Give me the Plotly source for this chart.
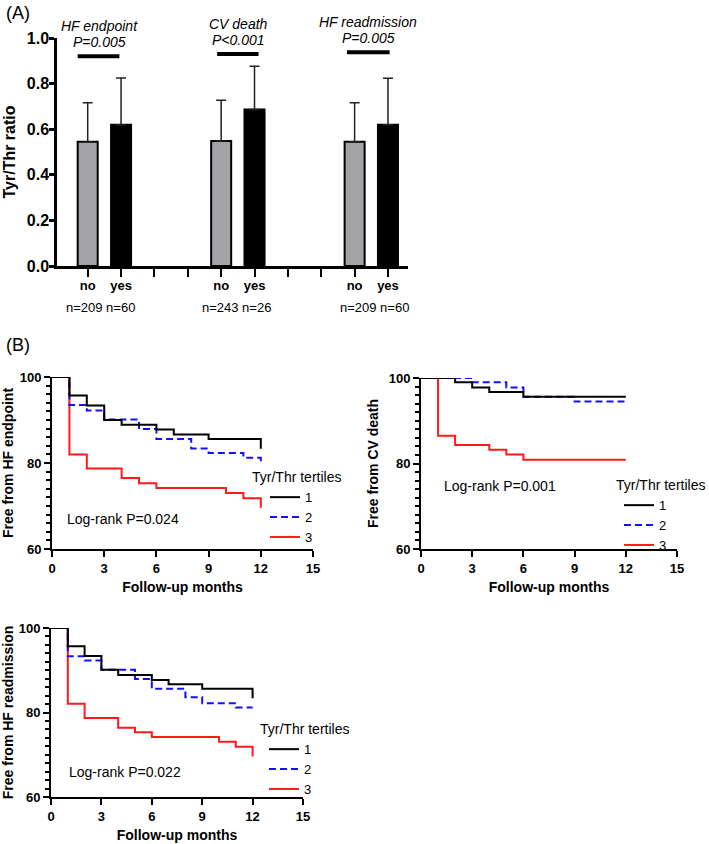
import plotly.graph_objects as go

W, H = 709, 844
FONT = "Liberation Sans, Arial, Helvetica, sans-serif"

# ---------------- Panel A data ----------------
endpoints = ["HF endpoint", "CV death", "HF readmission"]
p_texts = ["P=0.005", "P<0.001", "P=0.005"]
mean_no = [0.545, 0.548, 0.545]
mean_yes = [0.620, 0.686, 0.620]
sd_no = [0.171, 0.179, 0.171]
sd_yes = [0.205, 0.190, 0.203]
n_no = [209, 243, 209]
n_yes = [60, 26, 60]
sig_y = [0.920, 0.930, 0.937]
cat_labels = ["no", "yes", "", "", "no", "yes", "", "", "no", "yes"]

# ---------------- Panel B data (Kaplan-Meier, % event-free) ----------------
hf_t1 = [0, 1, 2, 3, 4, 6, 7, 9, 12]
hf_s1 = [100, 95.7, 93.4, 90.0, 88.9, 87.8, 86.6, 85.6, 83.3]
hf_t2 = [0, 1, 2, 3, 5, 6, 8, 9, 11, 12]
hf_s2 = [100, 93.5, 92.2, 90.1, 87.9, 85.6, 83.4, 82.3, 81.2, 80.4]
hf_t3 = [0, 1, 2, 4, 5, 6, 10, 11, 12]
hf_s3 = [100, 82.0, 78.7, 76.5, 75.3, 74.2, 73.0, 71.8, 69.6]

cv_t1 = [0, 2, 3, 4, 6, 12]
cv_s1 = [100, 99.0, 97.8, 96.7, 95.6, 95.6]
cv_t2 = [0, 3, 5, 6, 9, 12]
cv_s2 = [100, 99.0, 97.8, 95.6, 94.5, 94.5]
cv_t3 = [0, 1, 2, 4, 5, 6, 12]
cv_s3 = [100, 86.5, 84.3, 83.2, 82.1, 80.9, 80.9]

re_t1 = [0, 1, 2, 3, 4, 6, 7, 9, 12]
re_s1 = [100, 95.7, 93.4, 90.1, 88.9, 87.7, 86.7, 85.6, 83.4]
re_t2 = [0, 1, 2, 3, 5, 6, 8, 9, 11, 12]
re_s2 = [100, 93.3, 92.3, 90.1, 87.9, 85.6, 83.6, 82.2, 81.2, 81.2]
re_t3 = [0, 1, 2, 4, 5, 6, 10, 11, 12]
re_s3 = [100, 82.1, 78.7, 76.4, 75.3, 74.2, 73.1, 71.9, 69.6]

tertile_names = ["1", "2", "3"]
logrank = ["Log-rank P=0.024", "Log-rank P=0.001", "Log-rank P=0.022"]
km_ytitles = ["Free from HF endpoint", "Free from CV death", "Free from HF readmission"]


def px_x(p):
    return p / W


def px_y(p):
    return 1 - p / H


fig = go.Figure()

# ---------------- Panel A ----------------
x_no = [4 * i for i in range(len(endpoints))]
x_yes = [4 * i + 1 for i in range(len(endpoints))]

fig.add_trace(go.Bar(
    x=x_no, y=mean_no, width=0.6,
    marker=dict(color="#a3a3a7", line=dict(color="black", width=2)),
    error_y=dict(type="data", array=sd_no, arrayminus=[0] * 3, symmetric=False,
                 thickness=1.5, width=5, color="#222"),
    showlegend=False, xaxis="x", yaxis="y"))
fig.add_trace(go.Bar(
    x=x_yes, y=mean_yes, width=0.6,
    marker=dict(color="black", line=dict(color="black", width=2)),
    error_y=dict(type="data", array=sd_yes, arrayminus=[0] * 3, symmetric=False,
                 thickness=1.5, width=5, color="#222"),
    showlegend=False, xaxis="x", yaxis="y"))

sig_start = [-0.3, -0.12, -0.23]
sig_end = [0.95, 1.12, 1.05]
for i in range(len(endpoints)):
    fig.add_trace(go.Scatter(
        x=[x_no[i] + sig_start[i], x_no[i] + sig_end[i]], y=[sig_y[i], sig_y[i]],
        mode="lines", line=dict(color="black", width=4),
        showlegend=False, hoverinfo="skip", xaxis="x", yaxis="y"))

# ---------------- Panel B ----------------
km_sets = [
    (hf_t1, hf_s1, hf_t2, hf_s2, hf_t3, hf_s3),
    (cv_t1, cv_s1, cv_t2, cv_s2, cv_t3, cv_s3),
    (re_t1, re_s1, re_t2, re_s2, re_t3, re_s3),
]
legend_ids = ["legend", "legend2", "legend3"]
styles = [dict(color="black", width=2),
          dict(color="#1010ff", width=2, dash="7px,4px"),
          dict(color="#ff1a1a", width=2)]
for k, (t1, s1, t2, s2, t3, s3) in enumerate(km_sets):
    xa = "x%d" % (k + 2)
    ya = "y%d" % (k + 2)
    series = [(t1, s1), (t2, s2), (t3, s3)]
    for j in [2, 1, 0]:
        t, s = series[j]
        fig.add_trace(go.Scatter(
            x=t, y=s, mode="lines", line=dict(shape="hv", **styles[j]),
            name=tertile_names[j], legend=legend_ids[k], legendrank=j + 1,
            xaxis=xa, yaxis=ya))

# ---------------- Axes ----------------
tick_bold = lambda s: dict(family=FONT, size=s, color="black", weight="bold")

fig.update_layout(
    xaxis=dict(domain=[px_x(57), px_x(408)], range=[-0.92, 9.6],
               tickvals=list(range(len(cat_labels))), ticktext=cat_labels,
               showline=True, linewidth=2.5, linecolor="black",
               ticks="outside", ticklen=8, tickwidth=2, tickcolor="black",
               tickfont=tick_bold(13), ticklabelstandoff=-2,
               showgrid=False, zeroline=False, anchor="y", automargin=False),
    yaxis=dict(domain=[px_y(266), px_y(38)], range=[0, 1.0], dtick=0.2, tickformat=".1f",
               showline=True, linewidth=2.5, linecolor="black",
               ticks="outside", ticklen=5, tickwidth=2.5, tickcolor="black",
               tickfont=tick_bold(16), ticklabelstandoff=-3,
               showgrid=False, zeroline=False, anchor="x",
               title=dict(text="Tyr/Thr ratio", font=tick_bold(16), standoff=8),
               automargin=False),
)

km_dom = [
    ([52, 313], [549, 377]),
    ([421, 677], [549, 378]),
    ([51, 303], [797, 628]),
]
for k, (xd, yd) in enumerate(km_dom):
    xn = "xaxis%d" % (k + 2)
    yn = "yaxis%d" % (k + 2)
    fig.layout[xn] = dict(
        domain=[px_x(xd[0]), px_x(xd[1])], range=[0, 15], dtick=3, tick0=0,
        showline=True, linewidth=2, linecolor="black",
        ticks="outside", ticklen=6, tickwidth=2, tickcolor="black",
        tickfont=tick_bold(13), showgrid=False, zeroline=False,
        anchor="y%d" % (k + 2), automargin=False,
        title=dict(text="Follow-up months", font=tick_bold(14), standoff=8))
    fig.layout[yn] = dict(
        domain=[px_y(yd[0]), px_y(yd[1])], range=[60, 100], dtick=20, tick0=60,
        showline=True, linewidth=2, linecolor="black",
        ticks="outside", ticklen=6, tickwidth=2, tickcolor="black",
        minor=dict(dtick=2, ticks="outside", ticklen=4, tickwidth=1.5,
                   tickcolor="black", showgrid=False),
        tickfont=tick_bold(13), showgrid=False, zeroline=False,
        anchor="x%d" % (k + 2), automargin=False,
        title=dict(text=km_ytitles[k], font=tick_bold(14), standoff=7))


def leg(x_px, top_px, indent):
    return dict(x=px_x(x_px), y=px_y(top_px), xanchor="left", yanchor="top",
                bgcolor="rgba(0,0,0,0)", borderwidth=0,
                font=dict(family=FONT, size=13, color="black"),
                title=dict(text="Tyr/Thr tertiles", font=dict(family=FONT, size=14, color="black")),
                indentation=indent, tracegroupgap=0, itemwidth=30,
                traceorder="normal")


fig.update_layout(
    legend=leg(250, 464, 15),
    legend2=leg(614, 472, 5),
    legend3=leg(258, 716, 6),
)

# ---------------- Annotations ----------------
ann = []
ann.append(dict(text="(A)", x=px_x(4), y=px_y(13), xref="paper", yref="paper",
                xanchor="left", yanchor="middle", showarrow=False,
                font=dict(family=FONT, size=18, color="black")))
ann.append(dict(text="(B)", x=px_x(4), y=px_y(345), xref="paper", yref="paper",
                xanchor="left", yanchor="middle", showarrow=False,
                font=dict(family=FONT, size=18, color="black")))

title_off = [0.34, 0.51, 0.41]
title_y = [25.7, 24, 21.7]
n_off = [0.37, 0.45, 0.6]
for i in range(len(endpoints)):
    ann.append(dict(text="<i>%s</i>" % endpoints[i], x=x_no[i] + title_off[i], y=px_y(title_y[i]),
                    xref="x", yref="paper", xanchor="center", yanchor="middle", showarrow=False,
                    font=dict(family=FONT, size=14, color="black")))
    ann.append(dict(text="<i>%s</i>" % p_texts[i], x=x_no[i] + title_off[i], y=px_y(title_y[i] + 16),
                    xref="x", yref="paper", xanchor="center", yanchor="middle", showarrow=False,
                    font=dict(family=FONT, size=14, color="black")))
    ann.append(dict(text="n=%d n=%d" % (n_no[i], n_yes[i]), x=x_no[i] + n_off[i], y=px_y(307),
                    xref="x", yref="paper", xanchor="center", yanchor="middle", showarrow=False,
                    font=dict(family=FONT, size=13, color="black")))

lr_pos = [(65, 519), (442, 486), (67, 772)]
for k in range(3):
    ann.append(dict(text=logrank[k], x=px_x(lr_pos[k][0]), y=px_y(lr_pos[k][1]),
                    xref="paper", yref="paper", xanchor="left", yanchor="middle",
                    showarrow=False, font=dict(family=FONT, size=14, color="black")))

fig.update_layout(
    width=W, height=H,
    margin=dict(l=0, r=0, t=0, b=0, autoexpand=False),
    paper_bgcolor="white", plot_bgcolor="white",
    barmode="overlay",
    annotations=ann,
    font=dict(family=FONT, color="black"),
)

fig.write_html("out.html", config={"displayModeBar": False},
               post_script="document.body.style.margin='0';")
